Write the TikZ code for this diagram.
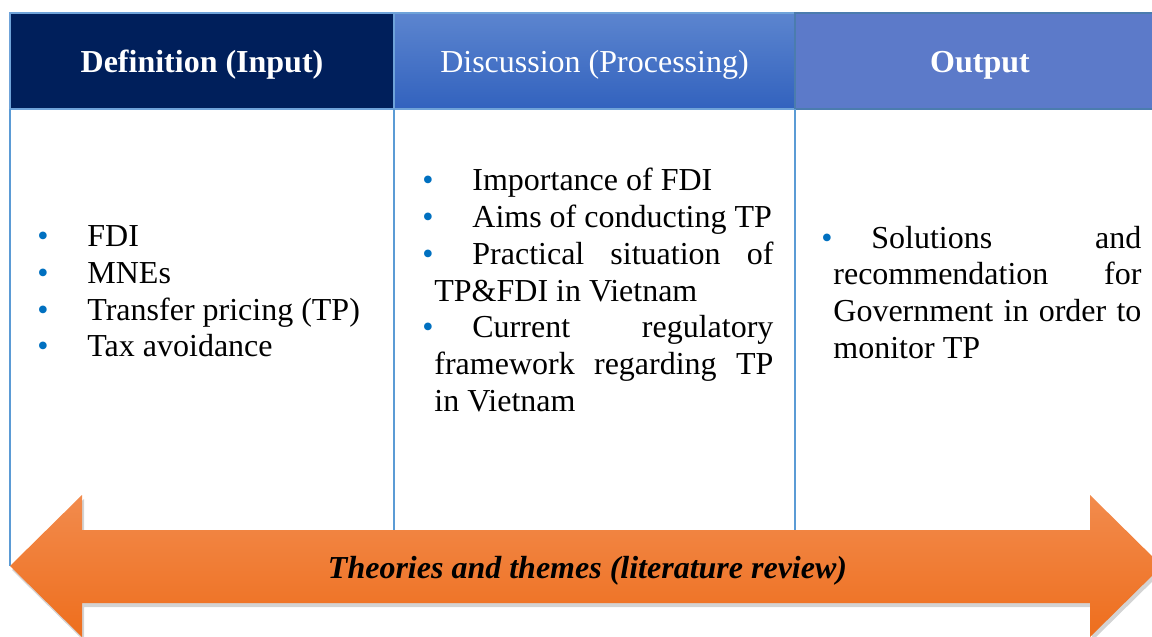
\documentclass[tikz,border=0pt]{standalone}
\usepackage{fontspec}
\setmainfont{Liberation Serif}
\usetikzlibrary{shadows}
\definecolor{navyhead}{HTML}{001F5B}
\definecolor{disctop}{HTML}{5C85CF}
\definecolor{discbot}{HTML}{3262BE}
\definecolor{outhead}{HTML}{5C7AC9}
\definecolor{lightrule}{HTML}{6FA3D9}
\definecolor{darkrule}{HTML}{4B7CAE}
\definecolor{bodyrule}{HTML}{5B9BD5}
\definecolor{orangetop}{HTML}{F28B4D}
\definecolor{orangebot}{HTML}{EE6E1D}
\definecolor{bulletblue}{HTML}{0070C0}
\newcommand{\bul}[1]{\par\noindent\hspace*{-6pt}\makebox[25pt][l]{\textcolor{bulletblue}{\textbullet}}#1}
\newcommand{\nohyph}{\hyphenpenalty=10000\relax}
\tikzset{
	headtext/.style={text=white, font=\fontsize{16}{18}\selectfont},
	bodytext/.style={inner sep=0pt, anchor=west, align=justify,
		font=\fontsize{16}{18.4}\selectfont\nohyph},
	bodyline/.style={line width=0.8pt, color=bodyrule},
}

\begin{document}
\begin{tikzpicture}[x=0.5pt, y=-0.5pt]
		%%%%% START %%%%%
		\useasboundingbox (0, 0) rectangle (1152, 637);
		\clip (0, 0) rectangle (1152, 637);
		
		\draw[line width=0.8pt, color=lightrule, fill=navyhead] (10, 13) rectangle (394, 109);
		\draw[line width=0.8pt, color=lightrule, top color=disctop, bottom color=discbot] (394, 13) rectangle (795, 109);
		\draw[line width=1pt, color=darkrule, fill=outhead] (795, 13) rectangle (1170, 109);
		
		\node[headtext, font=\fontsize{16}{18}\selectfont\bfseries] (defhead) at (202, 65) {Definition (Input)};
		\node[headtext] (dischead) at (594.5, 65) {Discussion (Processing)};
		\node[headtext, font=\fontsize{16}{18}\selectfont\bfseries] (outhead) at (980, 65) {Output};
		
		\draw[bodyline] (10, 109) -- (10, 566);
		\draw[bodyline] (394, 109) -- (394, 566);
		\draw[bodyline] (795, 109) -- (795, 566);
		
		\node[bodytext, text width=160pt] (defbody) at (49, 283.5) {%
			\bul{FDI}\bul{MNEs}\bul{Transfer pricing (TP)}\bul{Tax avoidance}};
		\node[bodytext, text width=169.5pt] (discbody) at (434, 283) {%
			\bul{Importance of FDI}\bul{Aims of conducting TP}%
			\bul{Practical situation of\linebreak TP\&FDI in Vietnam}%
			\bul{Current regulatory\linebreak framework regarding TP\linebreak in Vietnam}};
		\node[bodytext, text width=154pt] (outbody) at (833, 285) {%
			\bul{Solutions and\linebreak recommendation for\linebreak Government in order to\linebreak monitor TP}};
		
		\draw[top color=orangetop, bottom color=orangebot, draw=none,
			drop shadow={opacity=0.35, shadow xshift=1pt, shadow yshift=-2pt}]
			(10, 566) -- (82, 495) -- (82, 530) -- (1090, 530) -- (1090, 495) -- (1162, 566)
			-- (1090, 637) -- (1090, 603) -- (82, 603) -- (82, 637) -- cycle;
		\node[font=\fontsize{16}{18}\selectfont\bfseries\itshape] (theme) at (587.5, 571) {Theories and themes (literature review)};
		
		%%%%% END %%%%%
\end{tikzpicture}
\end{document}
